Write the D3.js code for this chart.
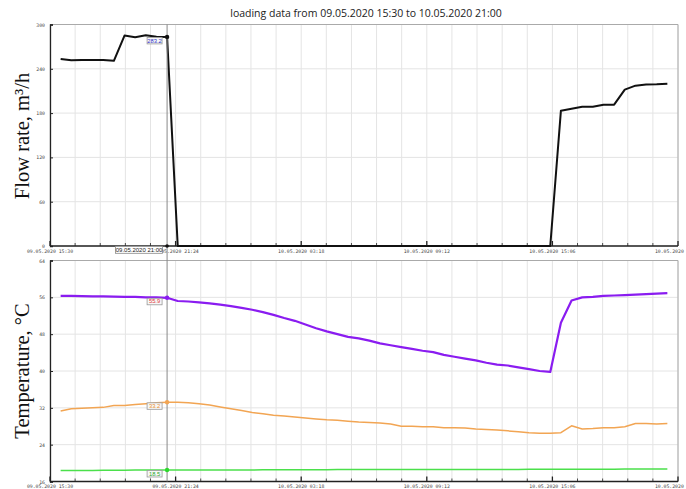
<!DOCTYPE html>
<html>
<head>
<meta charset="utf-8">
<script src="https://cdn.jsdelivr.net/npm/d3@7"></script>
<style>
  html, body { margin: 0; padding: 0; background: #fff; }
  svg { display: block; }
</style>
</head>
<body>
<svg id="chart" width="686" height="489"></svg>
<script>
// Half-hourly readings, 09.05.2020 16:00 .. 10.05.2020 20:30
const firstReading = "2020-05-09T16:00:00";
const stepMinutes = 30;

const flowRate = [
  253.4, 251.5, 251.8, 252.0, 252.0, 250.8, 285.0, 282.8, 285.5, 283.3, 283.2,
  0, 0, 0, 0, 0, 0, 0, 0, 0, 0, 0, 0, 0, 0, 0, 0, 0, 0,
  0, 0, 0, 0, 0, 0, 0, 0, 0, 0, 0, 0, 0, 0, 0, 0, 0, 0,
  183.3, 186.0, 188.7, 188.7, 191.4, 191.4, 211.8, 217.2, 218.6, 219.0, 219.9
];

const supplyTemp = [
  56.3, 56.3, 56.25, 56.2, 56.2, 56.15, 56.1, 56.1, 56.0, 56.0, 55.9,
  55.2, 55.1, 54.9, 54.7, 54.4, 54.1, 53.7, 53.3, 52.8, 52.2,
  51.5, 50.9, 50.1, 49.3, 48.6, 48.0, 47.4, 47.1, 46.6, 46.0,
  45.6, 45.2, 44.8, 44.4, 44.1, 43.5, 43.1, 42.7, 42.3, 41.8,
  41.4, 41.2, 40.8, 40.4, 40.0, 39.8,
  50.5, 55.3, 56.0, 56.1, 56.3, 56.4, 56.5, 56.6, 56.7, 56.8, 56.9
];

const returnTemp = [
  31.3, 31.8, 31.9, 32.0, 32.1, 32.5, 32.5, 32.7, 32.9, 33.1, 33.2,
  33.2, 33.1, 32.9, 32.6, 32.2, 31.8, 31.4, 31.0, 30.7, 30.4,
  30.2, 30.0, 29.8, 29.6, 29.4, 29.3, 29.1, 28.9, 28.8, 28.7,
  28.5, 28.0, 28.0, 27.9, 27.9, 27.7, 27.7, 27.6, 27.4, 27.3,
  27.2, 27.0, 26.8, 26.6, 26.5, 26.5,
  26.6, 28.1, 27.4, 27.5, 27.7, 27.7, 27.9, 28.6, 28.6, 28.5, 28.6
];

const outdoorTemp = [
  18.4, 18.4, 18.4, 18.4, 18.45, 18.45, 18.45, 18.5, 18.5, 18.5, 18.5,
  18.5, 18.5, 18.5, 18.5, 18.5, 18.5, 18.5, 18.5, 18.55, 18.55,
  18.55, 18.55, 18.55, 18.55, 18.55, 18.6, 18.6, 18.6, 18.6, 18.6,
  18.6, 18.6, 18.6, 18.6, 18.6, 18.6, 18.6, 18.6, 18.6, 18.6,
  18.6, 18.6, 18.6, 18.65, 18.65, 18.65,
  18.65, 18.65, 18.65, 18.65, 18.65, 18.65, 18.7, 18.7, 18.7, 18.7, 18.7
];

const flowTicks = [0, 60, 120, 180, 240, 300];
const tempTicks = [16, 24, 32, 40, 48, 56, 64];

const rangeStart = "2020-05-09T15:30:00";
const rangeEnd = "2020-05-10T21:00:00";
const cursorTime = "2020-05-09T21:00:00";
const titleText = "loading data from 09.05.2020 15:30 to 10.05.2020 21:00";

// ---------------------------------------------------------------------------
const parse = d3.timeParse("%Y-%m-%dT%H:%M:%S");
const t0 = parse(firstReading);
const times = flowRate.map((_, i) => d3.timeMinute.offset(t0, i * stepMinutes));
const start = parse(rangeStart), end = parse(rangeEnd), cursor = parse(cursorTime);
const cursorIdx = times.findIndex(t => +t === +cursor);

const svg = d3.select("#chart");
const fmt = d3.timeFormat("%d.%m.%Y %H:%M");

const x = d3.scaleTime().domain([start, end]).range([50, 678]);
const majorStep = (end - start) / 5;
const majorTicks = d3.range(6).map(i => new Date(+start + i * majorStep));
const minorTicks = d3.range(26).map(i => new Date(+start + i * majorStep / 5));

const gridColor = "#e4e4e4";
const tickFont = "'DejaVu Sans Mono', monospace";

svg.append("text")
  .attr("x", 366).attr("y", 17)
  .attr("text-anchor", "middle")
  .attr("font-family", "'Open Sans', sans-serif")
  .attr("font-size", 10.5)
  .attr("fill", "#222")
  .text(titleText);

function panel(yScale, ticks, title, titleY) {
  const [y0, y1] = yScale.range();
  const g = svg.append("g");

  // grid
  g.append("g").selectAll("line").data(minorTicks).join("line")
    .attr("x1", d => x(d)).attr("x2", d => x(d))
    .attr("y1", y1).attr("y2", y0)
    .attr("stroke", gridColor).attr("stroke-width", 1);
  g.append("g").selectAll("line").data(ticks).join("line")
    .attr("x1", 50).attr("x2", 678)
    .attr("y1", d => yScale(d)).attr("y2", d => yScale(d))
    .attr("stroke", gridColor).attr("stroke-width", 1);

  // frame
  g.append("path")
    .attr("d", `M50,${y1}H678V${y0}`)
    .attr("fill", "none").attr("stroke", "#aaa").attr("stroke-width", 1);

  // left axis
  const ya = d3.axisLeft(yScale).tickValues(ticks).tickSize(-3).tickPadding(5)
    .tickFormat(d3.format("d"));
  const yg = g.append("g").attr("transform", "translate(50,0)").call(ya);
  yg.select(".domain").attr("stroke", "#222").attr("stroke-width", 1.3);
  yg.selectAll(".tick line").attr("stroke", "#222");
  yg.selectAll(".tick text")
    .attr("font-family", tickFont).attr("font-size", 4.8).attr("fill", "#444");

  // bottom axis
  const xa = g.append("g").attr("transform", `translate(0,${y0})`);
  xa.append("line").attr("x1", 50).attr("x2", 678).attr("y1", 0).attr("y2", 0)
    .attr("stroke", "#222").attr("stroke-width", 1.3);
  xa.selectAll("line.minor").data(minorTicks).join("line").attr("class", "minor")
    .attr("x1", d => x(d)).attr("x2", d => x(d))
    .attr("y1", 0).attr("y2", (d, i) => i % 5 === 0 ? -5 : -3)
    .attr("stroke", "#222").attr("stroke-width", (d, i) => i % 5 === 0 ? 1.3 : 0.8);
  xa.selectAll("text").data(majorTicks).join("text")
    .attr("x", d => x(d)).attr("y", 6.5)
    .attr("text-anchor", "middle")
    .attr("font-family", tickFont).attr("font-size", 4.8).attr("fill", "#444")
    .text(d => fmt(d));

  // axis title
  svg.append("text")
    .attr("transform", `translate(29,${titleY}) rotate(-90)`)
    .attr("text-anchor", "middle")
    .attr("font-family", "'Liberation Serif', 'Times New Roman', serif")
    .attr("font-size", 20.5)
    .attr("fill", "#111")
    .text(title);
  return g;
}

// ---- flow rate panel ----
const yFlow = d3.scaleLinear().domain([0, 300]).range([246, 24.5]);
const gFlow = panel(yFlow, flowTicks, "Flow rate, m³/h", 136);

// ---- temperature panel ----
const yTemp = d3.scaleLinear().domain([16, 64]).range([481.5, 260.5]);
const gTemp = panel(yTemp, tempTicks, "Temperature, °C", 371);

// cursor line across both panels
svg.append("line")
  .attr("x1", x(cursor)).attr("x2", x(cursor))
  .attr("y1", 24.5).attr("y2", 481.5)
  .attr("stroke", "#888").attr("stroke-width", 1);

function series(g, yScale, values, color, width) {
  g.append("path")
    .datum(values)
    .attr("fill", "none")
    .attr("stroke", color)
    .attr("stroke-width", width)
    .attr("stroke-linejoin", "round")
    .attr("d", d3.line().x((d, i) => x(times[i])).y(d => yScale(d)));
}

series(gFlow, yFlow, flowRate, "#111", 2);
series(gTemp, yTemp, supplyTemp, "#8a1cf0", 2.2);
series(gTemp, yTemp, returnTemp, "#f2a553", 1.5);
series(gTemp, yTemp, outdoorTemp, "#4be04b", 1.5);

function valueTag(yScale, values, markColor, textColor) {
  const v = values[cursorIdx];
  const cx = x(cursor), cy = yScale(v);
  svg.append("circle").attr("cx", cx).attr("cy", cy).attr("r", 2.2).attr("fill", markColor);
  const w = 15, h = 6.5;
  svg.append("rect")
    .attr("x", cx - 5 - w).attr("y", cy + 0.5)
    .attr("width", w).attr("height", h)
    .attr("fill", "#f7f7f7").attr("stroke", "#999").attr("stroke-width", 0.8);
  svg.append("text")
    .attr("x", cx - 5 - w / 2).attr("y", cy + 5.6)
    .attr("text-anchor", "middle")
    .attr("font-family", "'Liberation Sans', Arial, sans-serif")
    .attr("font-size", 5.8)
    .attr("fill", textColor)
    .text(d3.format(".1f")(v));
}

valueTag(yFlow, flowRate, "#111", "#3030c8");
valueTag(yTemp, supplyTemp, "#8a1cf0", "#e03a3a");
valueTag(yTemp, returnTemp, "#f2a553", "#e8902e");
valueTag(yTemp, outdoorTemp, "#2ed82e", "#2aa82a");

// cursor time tag on the flow panel's time axis
{
  const cx = x(cursor);
  svg.append("circle").attr("cx", cx).attr("cy", 246).attr("r", 1.8).attr("fill", "#111");
  const w = 47, h = 7;
  svg.append("rect")
    .attr("x", cx - 4.5 - w).attr("y", 246.3)
    .attr("width", w).attr("height", h)
    .attr("fill", "#fff").attr("stroke", "#888").attr("stroke-width", 0.8);
  svg.append("text")
    .attr("x", cx - 4.5 - w / 2).attr("y", 251.8)
    .attr("text-anchor", "middle")
    .attr("font-family", "'Liberation Sans', Arial, sans-serif")
    .attr("font-size", 6)
    .attr("fill", "#222")
    .text(fmt(cursor));
}
</script>
</body>
</html>
